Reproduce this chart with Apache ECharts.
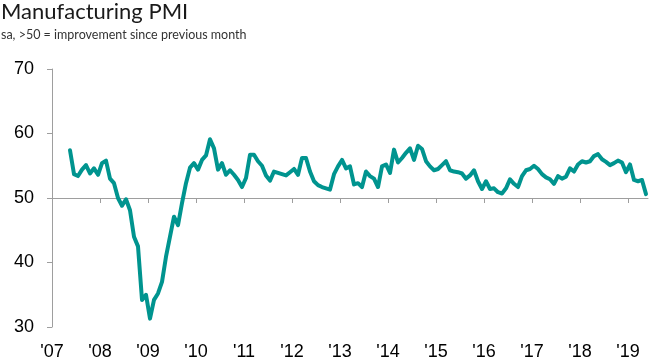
<!DOCTYPE html>
<html>
<head>
<meta charset="utf-8">
<script src="https://cdn.jsdelivr.net/npm/echarts@6/dist/echarts.min.js"></script>
<style>html,body{margin:0;padding:0;background:#fff}#c{width:650px;height:363px}</style>
</head>
<body>
<div id="c"></div>
<script>
// Monthly PMI readings, starting May 2007
var startYear = 2007;
var startMonth = 5;
var pmi = [
  57.4, 53.7, 53.4, 54.4, 55.1, 53.8, 54.6, 53.6,
  55.4, 55.8, 53.0, 52.3, 50.0, 48.8, 49.8, 48.1, 44.0, 42.5, 34.2, 35.0,
  31.3, 34.2, 35.2, 37.0, 40.9, 44.0, 47.1, 45.8, 49.2, 52.3, 54.7, 55.4,
  54.4, 55.9, 56.6, 59.1, 57.7, 54.4, 55.4, 53.6, 54.3, 53.6, 52.8, 51.7,
  53.1, 56.7, 56.7, 55.7, 55.0, 53.5, 52.7, 54.1, 53.9, 53.7, 53.5, 54.0,
  54.5, 53.6, 56.2, 56.2, 54.1, 52.6, 52.0, 51.7, 51.5, 51.3, 53.7, 54.9,
  55.9, 54.6, 54.9, 52.1, 52.3, 51.7, 54.1, 53.4, 53.0, 51.7, 54.9, 55.2,
  53.9, 57.5, 55.5, 56.2, 57.0, 57.7, 55.9, 58.1, 57.6, 55.7, 54.9, 54.3,
  54.5, 55.1, 55.7, 54.3, 54.1, 54.0, 53.8, 53.0, 53.5, 54.3, 52.6, 51.4,
  52.6, 51.4, 51.5, 50.9, 50.7, 51.5, 52.9, 52.2, 51.7, 53.4, 54.3, 54.5,
  55.0, 54.5, 53.7, 53.2, 52.9, 52.2, 53.4, 53.0, 53.3, 54.6, 54.1, 55.2,
  55.7, 55.5, 55.7, 56.5, 56.8, 56.0, 55.6, 55.1, 55.4, 55.8, 55.5, 54.0,
  55.2, 52.8, 52.6, 52.8, 50.6
];
var tickYears = [2007, 2008, 2009, 2010, 2011, 2012, 2013, 2014, 2015, 2016, 2017, 2018, 2019];
var yTicks = [30, 40, 50, 60, 70];

// month index from Jan of first tick year; points at mid-month
var baseYear = tickYears[0];
var seriesData = pmi.map(function (v, i) {
  var m = (startYear - baseYear) * 12 + (startMonth - 1) + i + 0.5;
  return [m, v];
});
var tickVals = tickYears.map(function (y) { return (y - baseYear) * 12; });
var xMax = 149;
var gridTop = 69, gridBottom = 36, chartH = 363;
var gridH = chartH - gridTop - gridBottom;
var yMin = yTicks[0], yMax = yTicks[yTicks.length - 1];
var crossOffset = -(50 - yMin) / (yMax - yMin) * gridH;

var axisGray = '#9e9e9e';
var chart = echarts.init(document.getElementById('c'), null, {renderer: 'canvas'});
chart.setOption({
  animation: false,
  backgroundColor: '#fff',
  title: {
    text: 'Manufacturing PMI',
    subtext: 'sa, >50 = improvement since previous month',
    left: 0, top: 0, padding: [1, 0, 0, 1], itemGap: 5,
    textStyle: {fontFamily: 'Lato', fontSize: 22, fontWeight: 'normal', color: '#1a1a1a'},
    subtextStyle: {fontFamily: 'Lato', fontSize: 12.5, color: '#333'}
  },
  grid: {left: 52, right: 2, top: gridTop, bottom: gridBottom, containLabel: false, outerBoundsMode: 'none'},
  xAxis: [{
    type: 'value', min: 0, max: xMax, position: 'bottom',
    axisLine: {show: false}, axisTick: {show: false}, splitLine: {show: false},
    axisLabel: {
      customValues: tickVals, margin: 16, fontSize: 18, color: '#000', fontFamily: 'Liberation Sans',
      formatter: function (v) { return "'" + String(baseYear + Math.round(v / 12)).slice(2); }
    }
  }, {
    type: 'value', min: 0, max: xMax, position: 'bottom', offset: crossOffset,
    axisLine: {show: true, lineStyle: {color: axisGray, width: 1}},
    axisTick: {show: true, customValues: tickVals, length: 5, lineStyle: {color: axisGray}},
    axisLabel: {show: false}, splitLine: {show: false}
  }],
  yAxis: {
    type: 'value', min: yMin, max: yMax, interval: 10,
    axisLine: {show: true, lineStyle: {color: axisGray, width: 1}},
    axisTick: {show: true, length: 5, lineStyle: {color: axisGray}},
    splitLine: {show: false},
    axisLabel: {margin: 18, fontSize: 18, color: '#000', fontFamily: 'Liberation Sans'}
  },
  series: [{
    type: 'line', xAxisIndex: 0, data: seriesData, showSymbol: false, symbol: 'none',
    lineStyle: {color: '#00948f', width: 4, join: 'round', cap: 'round'},
    itemStyle: {color: '#00948f'}
  }]
});
</script>
</body>
</html>
